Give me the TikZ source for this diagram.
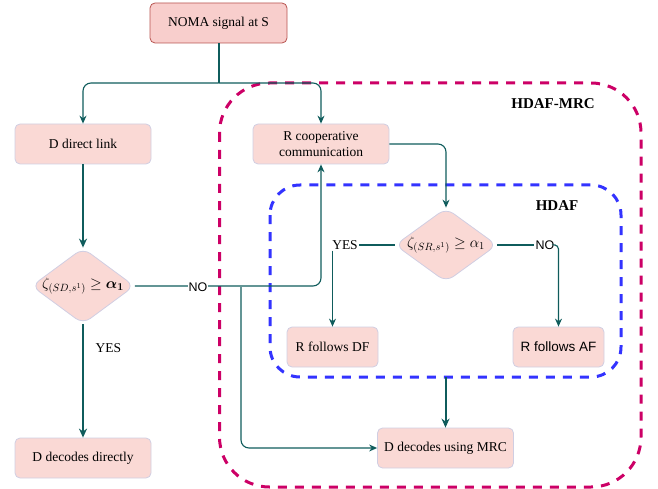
\RequirePackage{fix-cm}
\documentclass[tikz,border=0pt]{standalone}
\usepackage{amsmath}
\usepackage{fontspec}
\setmainfont{Liberation Serif}
\newfontfamily\arialfont{Liberation Sans}
\usetikzlibrary{shapes.geometric,arrows.meta}
\definecolor{tealc}{HTML}{0F5C5C}
\definecolor{boxfill}{HTML}{FAD9D5}
\definecolor{boxline}{HTML}{D0CEE2}
\definecolor{nomafill}{HTML}{F8CECC}
\definecolor{nomaline}{HTML}{B85450}
\definecolor{magentac}{HTML}{CC0066}
\definecolor{bluec}{HTML}{3333FF}
\tikzset{
  txt/.style={font=\fontsize{13.5}{16}\selectfont},
  mtxt/.style={font=\fontsize{15}{18}\selectfont},
  pbox/.style={txt, draw=boxline, fill=boxfill, rounded corners=5pt, line width=0.8pt, inner sep=0pt, align=center},
  dia/.style={diamond, draw=boxline, fill=boxfill, rounded corners=9pt, line width=0.8pt, inner sep=0pt, minimum width=103pt, minimum height=76pt},
  conn/.style={draw=tealc, line width=1.1pt, rounded corners=8pt, -{Stealth[length=8pt,width=7pt]}},
  connthick/.style={draw=tealc, line width=2pt, -{Stealth[length=9pt,width=8pt]}},
  plain/.style={draw=tealc, line width=1.1pt},
  region/.style={line width=3pt, dash pattern=on 9pt off 8pt, rounded corners=50pt},
  lbl/.style={txt, fill=white, inner sep=1pt},
  title/.style={font=\fontsize{15}{18}\selectfont\bfseries}
}
\begin{document}
\begin{tikzpicture}[x=1pt,y=-1pt]
\useasboundingbox (0,0) rectangle (658,489);
% regions
\draw[region, draw=magentac] (219.5,83) rectangle (641,487);
\draw[region, draw=bluec, rounded corners=30pt] (270,185) rectangle (621,377);
\node[title] (t1) at (553,104) {HDAF-MRC};
\node[title] (t2) at (557,206) {HDAF};
% nodes
\node[pbox, draw=nomaline, fill=nomafill, minimum width=137pt, minimum height=40pt] (noma) at (218.5,23) {NOMA signal at S};
\node[pbox, minimum width=136pt, minimum height=40pt] (ddl) at (83,144) {D direct link};
\node[dia] (d1) at (83,286) {};
\node[mtxt] at (d1) {$\zeta_{(SD,s^1)}\geq\boldsymbol{\alpha_1}$};
\node[pbox, minimum width=136pt, minimum height=40pt] (ddd) at (83,458) {D decodes directly};
\node[pbox, minimum width=136pt, minimum height=40pt] (rcc) at (321,144) {R cooperative\\communication};
\node[dia, minimum width=102pt, minimum height=74pt] (d2) at (446,245) {};
\node[mtxt] at (d2) {$\zeta_{(SR,s^1)}\geq\alpha_1$};
\node[pbox, minimum width=91pt, minimum height=40pt] (rdf) at (332.5,347) {R follows DF};
\node[pbox, font=\arialfont\fontsize{13.5}{16}\selectfont, minimum width=91pt, minimum height=40pt] (raf) at (558.5,347) {R follows AF};
\node[pbox, minimum width=136pt, minimum height=40pt] (mrc) at (445.5,448) {D decodes using MRC};
% connectors
\coordinate (split) at (218.5,83);
\draw[draw=tealc, line width=2pt] (noma.south) -- (split);
\draw[conn] (split) -| (ddl.north);
\draw[conn] (split) -| (rcc.north);
\draw[connthick] (ddl.south) -- (d1.north);
\draw[connthick] (d1.south) -- (ddd.north);
\node[txt, anchor=west] (yes1) at (92,348) {YES};
\draw[conn] (d1.east) -| (rcc.south);
\coordinate (br) at (241,287);
\draw[conn] (br) |- (mrc.west);
\node[lbl, font=\arialfont\fontsize{12.5}{15}\selectfont] (no1) at (198,287) {NO};
\draw[conn] (rcc.east) -| (d2.north);
\node[txt, inner sep=1pt] (yes2) at (345,245) {YES};
\draw[plain] (d2.west) -- (yes2.east);
\draw[conn] (rdf.north |- yes2.south) -- (rdf.north);
\node[font=\arialfont\fontsize{12.5}{15}\selectfont, inner sep=1pt] (no2) at (545,245) {NO};
\draw[plain] (d2.east) -- (no2.west);
\draw[conn, rounded corners=4pt] (no2.east) -| (raf.north);
\coordinate (hb) at (445.5,377);
\draw[connthick] (hb) -- (mrc.north);
\end{tikzpicture}
\end{document}
